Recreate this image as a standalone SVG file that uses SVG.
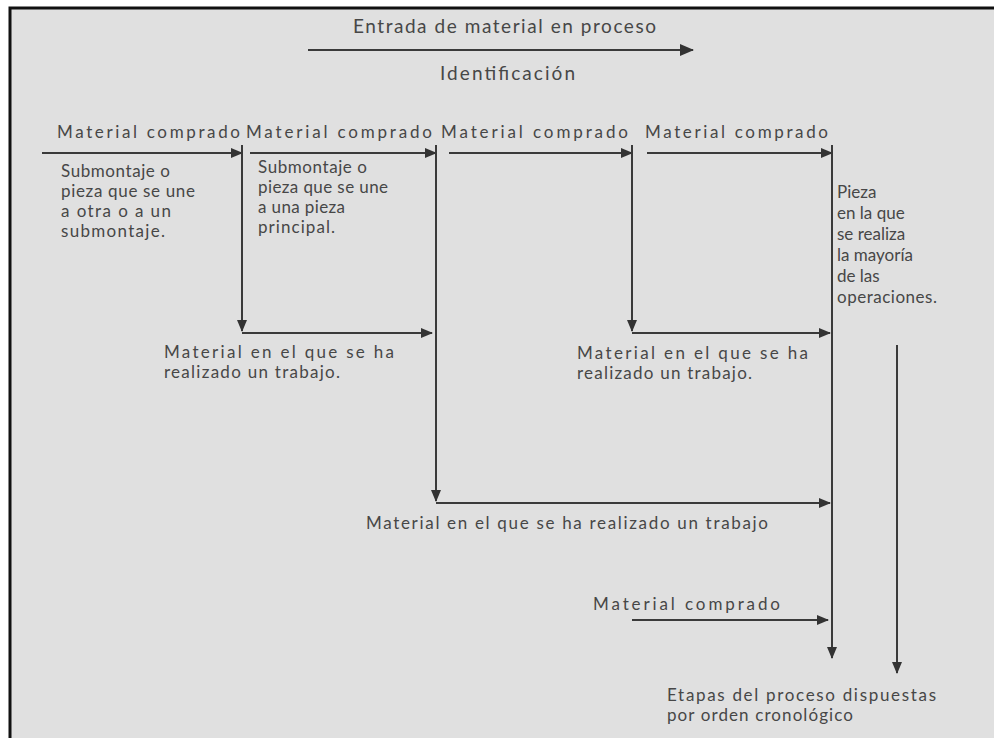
<svg xmlns="http://www.w3.org/2000/svg" width="994" height="738" viewBox="0 0 994 738">
<defs>
<marker id="ah" viewBox="0 0 12 10" refX="11" refY="5" markerWidth="12" markerHeight="10" markerUnits="userSpaceOnUse" orient="auto">
<path d="M0,0 L12,5 L0,10 Z" fill="#333"/>
</marker>
<marker id="ahb" viewBox="0 0 14 12" refX="13" refY="6" markerWidth="14" markerHeight="12" markerUnits="userSpaceOnUse" orient="auto">
<path d="M0,0 L14,6 L0,12 Z" fill="#333"/>
</marker>
<style>
text{font-family:Lato,"Open Sans","Liberation Sans",sans-serif;font-size:17px;fill:#474747}
.t{font-size:19px}
.c{stroke:#3a3a3a;stroke-width:2;fill:none}
.a{stroke:#3a3a3a;stroke-width:2;fill:none;marker-end:url(#ah)}
</style>
</defs>
<rect x="0" y="0" width="994" height="738" fill="#fff"/>
<rect x="9" y="7" width="985" height="731" fill="#e0e0e0"/>
<path d="M10,738 V8 H994" stroke="#111" stroke-width="3" fill="none"/>

<g id="connectors">
<line class="a" x1="308" y1="50" x2="693" y2="50" style="marker-end:url(#ahb)"/>
<line class="a" x1="42" y1="153" x2="242" y2="153"/>
<line class="a" x1="250" y1="153" x2="436" y2="153"/>
<line class="a" x1="449" y1="153" x2="632" y2="153"/>
<line class="a" x1="647" y1="153" x2="832" y2="153"/>
<line class="a" x1="242" y1="145" x2="242" y2="331"/>
<line class="a" x1="242" y1="333" x2="432" y2="333"/>
<line class="a" x1="632" y1="145" x2="632" y2="331"/>
<line class="a" x1="632" y1="333" x2="830" y2="333"/>
<line class="a" x1="436" y1="145" x2="436" y2="501"/>
<line class="a" x1="436" y1="503" x2="830" y2="503"/>
<line class="a" x1="632" y1="620" x2="828" y2="620"/>
<line class="a" x1="832" y1="145" x2="832" y2="658"/>
<line class="a" x1="897" y1="345" x2="897" y2="673"/>
</g>

<g id="title">
<text class="t" x="353" y="33" textLength="303">Entrada de material en proceso</text>
<text class="t" x="440" y="80" textLength="135">Identificación</text>
</g>

<g id="comprado1"><text x="57" y="138" textLength="183">Material comprado</text></g>
<g id="comprado2"><text x="246" y="138" textLength="186">Material comprado</text></g>
<g id="comprado3"><text x="441" y="138" textLength="187">Material comprado</text></g>
<g id="comprado4"><text x="645" y="138" textLength="183">Material comprado</text></g>

<g id="sub1">
<text x="61" y="177" textLength="109">Submontaje o</text>
<text x="61" y="197" textLength="134">pieza que se une</text>
<text x="61" y="217" textLength="110">a otra o a un</text>
<text x="61" y="237" textLength="104">submontaje.</text>
</g>
<g id="sub2">
<text x="258" y="173" textLength="109">Submontaje o</text>
<text x="258" y="193" textLength="130">pieza que se une</text>
<text x="258" y="213" textLength="87">a una pieza</text>
<text x="258" y="233" textLength="77">principal.</text>
</g>
<g id="pieza">
<text x="837" y="198">Pieza</text>
<text x="837" y="219">en la que</text>
<text x="837" y="240">se realiza</text>
<text x="837" y="261">la mayoría</text>
<text x="837" y="282">de las</text>
<text x="837" y="303" textLength="100">operaciones.</text>
</g>
<g id="trabajo1">
<text x="164" y="358" textLength="230">Material en el que se ha</text>
<text x="164" y="378" textLength="176">realizado un trabajo.</text>
</g>
<g id="trabajo2">
<text x="577" y="359" textLength="231">Material en el que se ha</text>
<text x="577" y="379" textLength="175">realizado un trabajo.</text>
</g>
<g id="trabajo3">
<text x="366" y="529" textLength="402">Material en el que se ha realizado un trabajo</text>
</g>
<g id="comprado5"><text x="593" y="610" textLength="187">Material comprado</text></g>
<g id="etapas">
<text x="667" y="701" textLength="269">Etapas del proceso dispuestas</text>
<text x="667" y="721" textLength="186">por orden cronológico</text>
</g>
</svg>
